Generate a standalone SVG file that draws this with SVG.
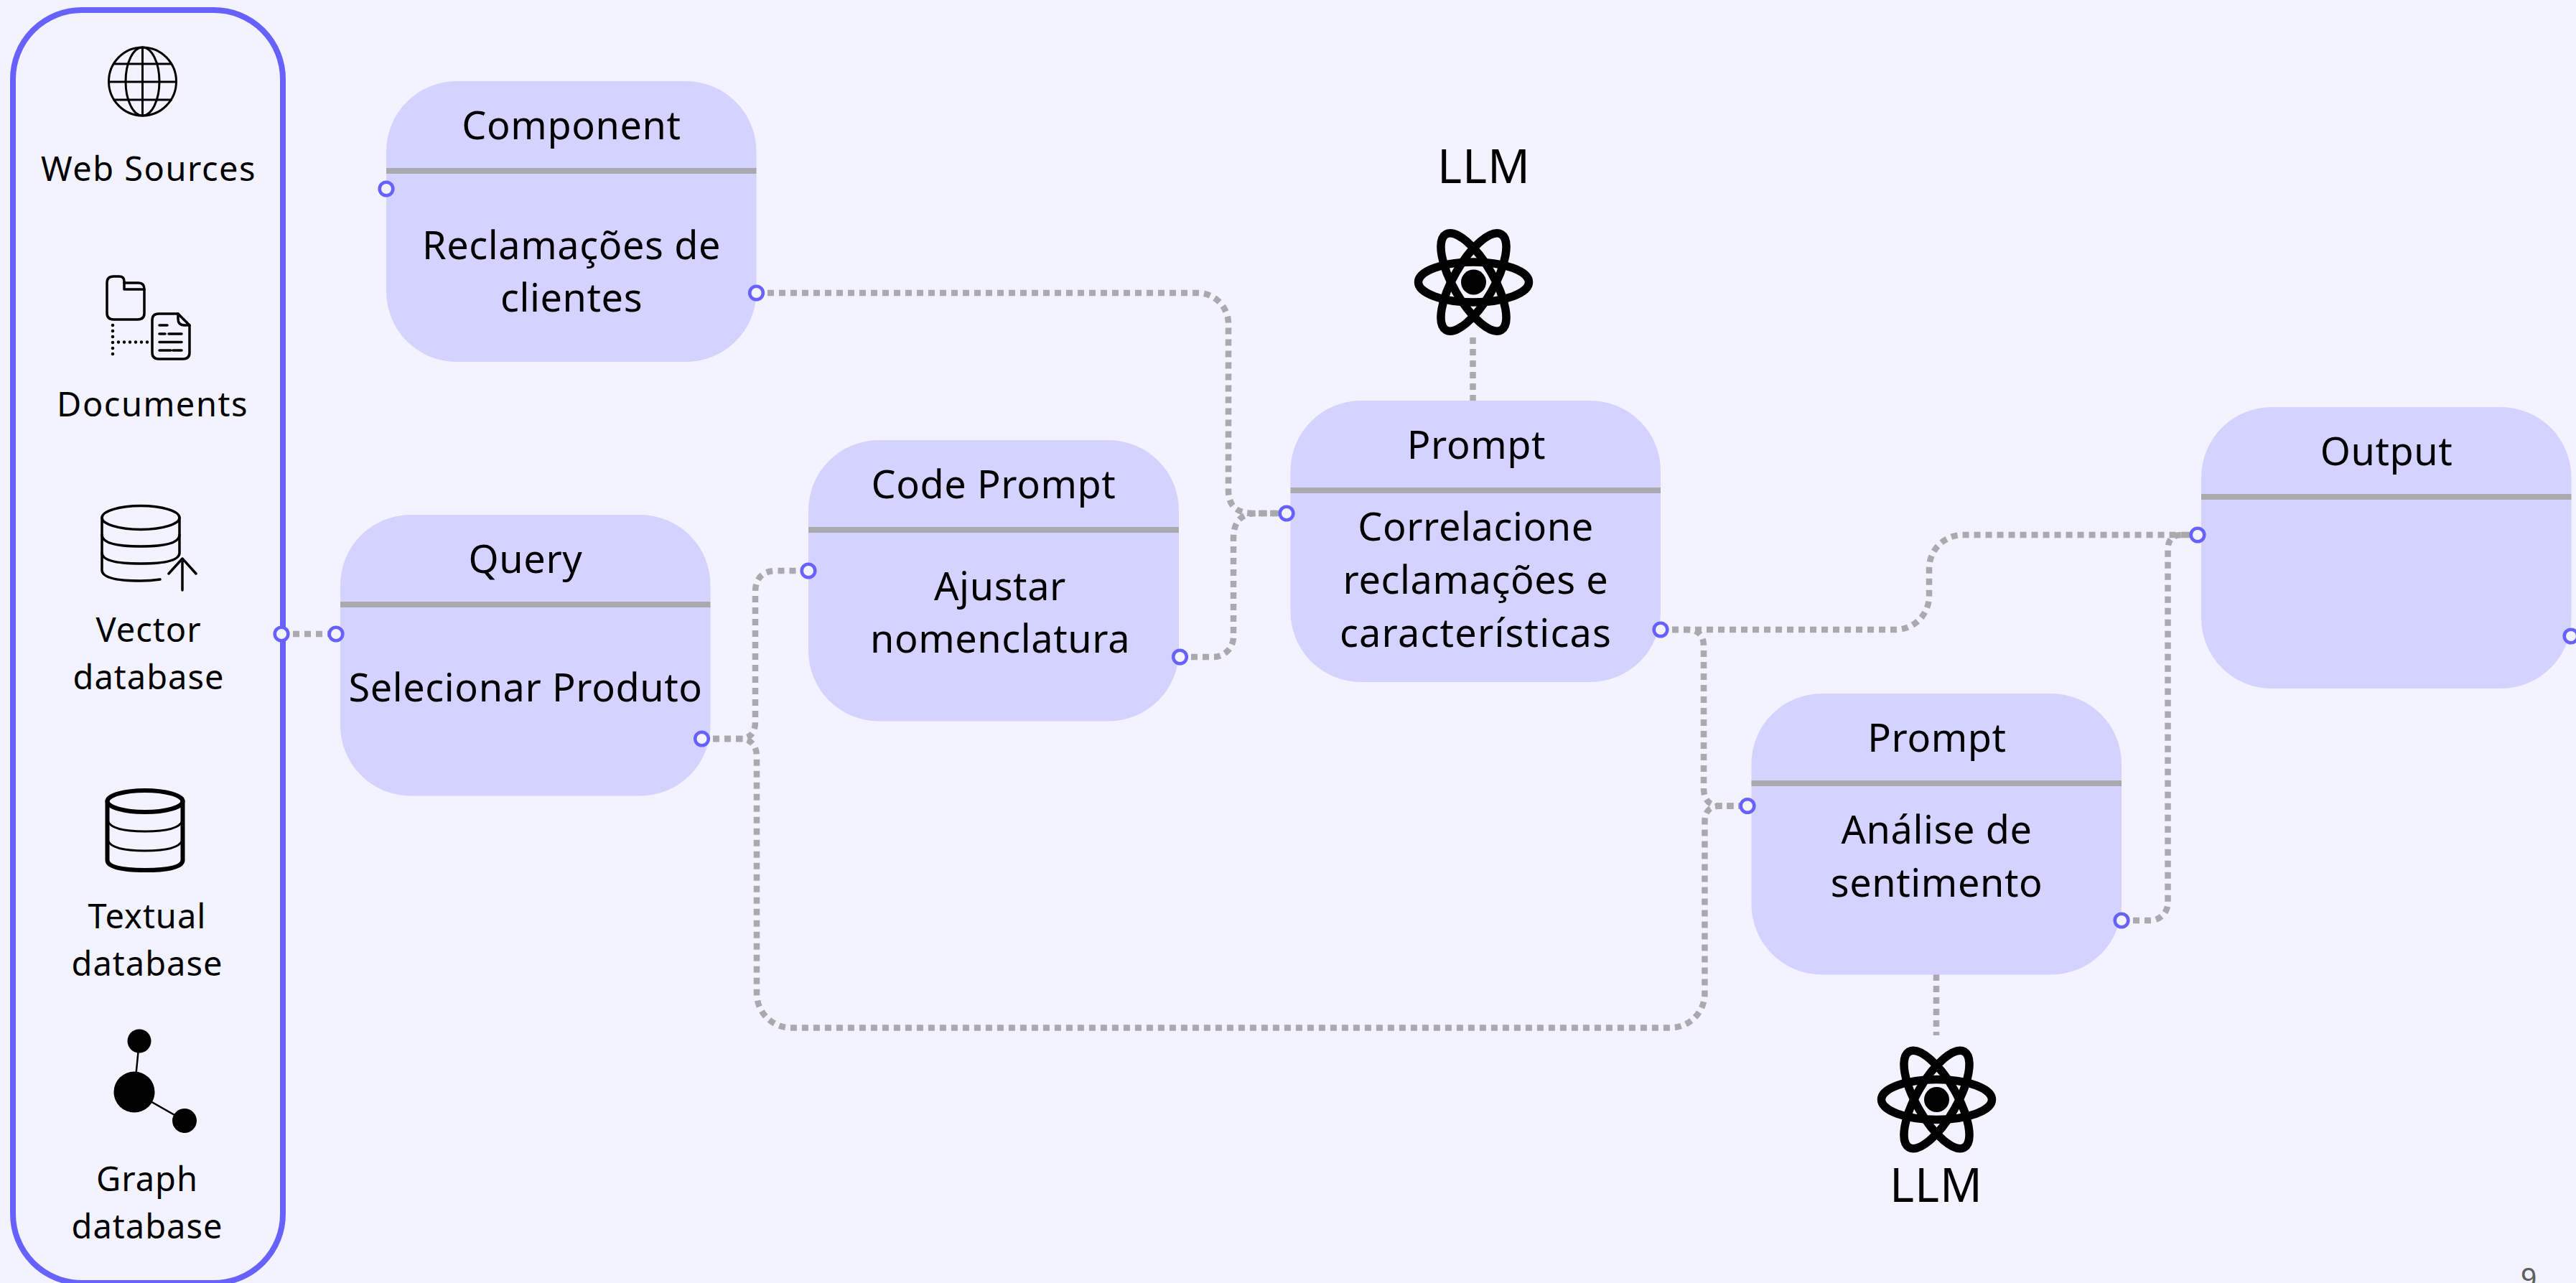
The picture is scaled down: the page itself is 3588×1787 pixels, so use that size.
<svg xmlns="http://www.w3.org/2000/svg" width="3588" height="1787" viewBox="0 0 3588 1787">
<defs>
<style>
.box{fill:#d4d2fe}
.div{stroke:#aaa9ad;stroke-width:8;fill:none}
.con{fill:none;stroke:#aaa9ad;stroke-width:8.500;stroke-dasharray:9 7}
.port{fill:#f2f3fe;stroke:#6761ff;stroke-width:4.600}
.t{font-family:"Noto Sans","Open Sans",sans-serif;font-size:54px;letter-spacing:.6px;fill:#000;text-anchor:middle;transform:translateY(1.5px)}
.s{font-family:"Noto Sans","Open Sans",sans-serif;font-size:47px;letter-spacing:1px;fill:#000;text-anchor:middle;transform:translateY(1.5px)}
.ic{fill:none;stroke:#000;stroke-linecap:round;stroke-linejoin:round}
</style>
<g id="atom">
<ellipse rx="77" ry="28" fill="none" stroke="#000" stroke-width="11.500"/>
<ellipse rx="77" ry="28" fill="none" stroke="#000" stroke-width="11.500" transform="rotate(60)"/>
<ellipse rx="77" ry="28" fill="none" stroke="#000" stroke-width="11.500" transform="rotate(-60)"/>
<circle r="17.500" fill="#000"/>
</g>
</defs>
<rect width="3588" height="1787" fill="#f2f3fe"/>
<g id="connectors">
<path class="con" d="M392 883H468"/>
<path class="con" d="M1053 408H1668A43 43 0 0 1 1711 451V683Q1711 715 1745 715H1792"/>
<path class="con" d="M1643 915H1690A28 28 0 0 0 1718 887V750Q1718 715 1750 715H1792"/>
<path class="con" d="M977 1029H1030Q1052 1029 1052 1005V825Q1052 795 1082 795H1126"/>
<path class="con" d="M977 1029H1030Q1054 1029 1054 1055V1383A48 48 0 0 0 1102 1431.500H2326A48 48 0 0 0 2374.500 1383V1144Q2374.500 1122.500 2397 1122.500H2434"/>
<path class="con" d="M2313 877H2350Q2373 877 2373 900V1098Q2373 1122.500 2397 1122.500H2434"/>
<path class="con" d="M2313 877H2640A47 47 0 0 0 2687 830V792A47 47 0 0 1 2734 745H3061"/>
<path class="con" d="M2955 1282H2995A24.500 24.500 0 0 0 3019.500 1257V765Q3019.500 745 3040 745H3061"/>
<path class="con" d="M2051.500 470V558"/>
<path class="con" d="M2697 1357V1442"/>
</g>
<g id="sources">
<rect x="18" y="14" width="376" height="1773" rx="96" ry="96" fill="none" stroke="#6761ff" stroke-width="8"/>
<g id="web-sources">
<g class="ic" stroke-width="3">
<ellipse cx="198.500" cy="113.500" rx="47" ry="47.500"/>
<ellipse cx="198.500" cy="113.500" rx="23.500" ry="47.500"/>
<path d="M198.500 66V161M158.500 89H238.500M151.500 114H245.500M158.500 139H238.500"/>
</g>
<text class="s" x="207" y="250" style="letter-spacing:1.500px">Web Sources</text>
</g>
<g id="documents">
<g class="ic" stroke-width="3.500">
<path d="M158 385H166Q173 385 173 392V403H201V436Q201 445 192 445H158Q149 445 149 436V394Q149 385 158 385Z"/>
<path d="M173 394H193Q201 394 201 403"/>
<path d="M221 437H248L264 453V491Q264 500 255 500H221Q212 500 212 491V446Q212 437 221 437Z"/>
<path d="M248 437V444Q248 453 257 453H264"/>
<path d="M222 453H233M222 465H230M235 465H253M222 476.500H253M222 488H238M241 488H253"/>
</g>
<path d="M157 453V501M165 476.500H207" fill="none" stroke="#000" stroke-width="4.500" stroke-linecap="round" stroke-dasharray="0 8"/>
<text class="s" x="212.500" y="578" style="letter-spacing:1.500px">Documents</text>
</g>
<g id="vector-database">
<g class="ic" stroke-width="3.500">
<ellipse cx="196" cy="721" rx="54" ry="16.500"/>
<path d="M142 721V794Q142 809 196 809Q210 809 223 807"/>
<path d="M250 721V770Q250 785 196 785Q142 785 142 770"/>
<path d="M250 745Q250 761 196 761Q142 761 142 745"/>
<path d="M254 778V822M235 799L254 778L273 799"/>
</g>
<text class="s" x="207" y="892">Vector</text>
<text class="s" x="207" y="958">database</text>
</g>
<g id="textual-database">
<g class="ic" stroke-width="6">
<ellipse cx="202" cy="1116" rx="52.500" ry="15"/>
<path d="M149.500 1116V1198Q149.500 1212 202 1212Q254.500 1212 254.500 1198V1116"/>
</g>
<path d="M150 1143Q155 1158 202 1158Q249 1158 254 1143M150 1170Q155 1185 202 1185Q249 1185 254 1170" fill="none" stroke="#000" stroke-width="3"/>
<text class="s" x="205" y="1291">Textual</text>
<text class="s" x="205" y="1357">database</text>
</g>
<g id="graph-database">
<path d="M194 1450L187 1521L257 1561" fill="none" stroke="#000" stroke-width="2.500"/>
<circle cx="187" cy="1521" r="28.500" fill="#000"/>
<circle cx="194" cy="1450" r="16.500" fill="#000"/>
<circle cx="257" cy="1561" r="17" fill="#000"/>
<text class="s" x="205" y="1657">Graph</text>
<text class="s" x="205" y="1723">database</text>
</g>
<circle class="port" cx="392" cy="883" r="9.300"/>
</g>
<g id="component">
<rect class="box" x="538" y="113" width="515.500" height="391" rx="98"/>
<path class="div" d="M538 238H1053.500"/>
<text class="t" x="796" y="192">Component</text>
<text class="t" x="796" y="359">Reclamações de</text>
<text class="t" x="796" y="432">clientes</text>
<circle class="port" cx="538" cy="263" r="9.300"/>
<circle class="port" cx="1053.500" cy="408" r="9.300"/>
</g>
<g id="query">
<rect class="box" x="474" y="717" width="515.500" height="391.500" rx="98"/>
<path class="div" d="M474 842H989.500"/>
<text class="t" x="732" y="796">Query</text>
<text class="t" x="732" y="975.500">Selecionar Produto</text>
<circle class="port" cx="468" cy="883" r="9.300"/>
<circle class="port" cx="977.500" cy="1029" r="9.300"/>
</g>
<g id="code-prompt">
<rect class="box" x="1126" y="613" width="516" height="391.500" rx="98"/>
<path class="div" d="M1126 738H1642"/>
<text class="t" x="1384" y="692">Code Prompt</text>
<text class="t" x="1393" y="834.500">Ajustar</text>
<text class="t" x="1393" y="907">nomenclatura</text>
<circle class="port" cx="1126" cy="795" r="9.300"/>
<circle class="port" cx="1643.500" cy="915" r="9.300"/>
</g>
<g id="prompt-correlacione">
<rect class="box" x="1797.500" y="558" width="515.500" height="392" rx="98"/>
<path class="div" d="M1797.500 683H2313"/>
<text class="t" x="2056.500" y="637">Prompt</text>
<text class="t" x="2055.500" y="751">Correlacione</text>
<text class="t" x="2055.500" y="825">reclamações e</text>
<text class="t" x="2055.500" y="899" style="letter-spacing:1.200px">características</text>
<circle class="port" cx="1792" cy="715" r="9.300"/>
<circle class="port" cx="2313" cy="877" r="9.300"/>
</g>
<g id="prompt-sentimento">
<rect class="box" x="2439.500" y="966" width="515.500" height="391.500" rx="98"/>
<path class="div" d="M2439.500 1091H2955"/>
<text class="t" x="2698" y="1045">Prompt</text>
<text class="t" x="2697.500" y="1173.500">Análise de</text>
<text class="t" x="2697.500" y="1247.500">sentimento</text>
<circle class="port" cx="2434" cy="1122.500" r="9.300"/>
<circle class="port" cx="2955" cy="1282" r="9.300"/>
</g>
<g id="output">
<rect class="box" x="3066" y="567" width="515.500" height="392" rx="98"/>
<path class="div" d="M3066 692H3581.500"/>
<text class="t" x="3324" y="646">Output</text>
<circle class="port" cx="3061" cy="745" r="9.300"/>
<circle class="port" cx="3581" cy="886" r="9.300"/>
</g>
<g id="llm-top">
<use href="#atom" x="2052.500" y="393"/>
<text class="t" x="2067" y="253" style="font-size:65px;letter-spacing:1px">LLM</text>
</g>
<g id="llm-bottom">
<use href="#atom" x="2697.500" y="1531.500"/>
<text class="t" x="2697" y="1672" style="font-size:65px;letter-spacing:1px">LLM</text>
</g>
<text x="3522" y="1794" font-family="Liberation Sans, sans-serif" font-size="40" fill="#5f5f5f" text-anchor="middle">9</text>
</svg>
